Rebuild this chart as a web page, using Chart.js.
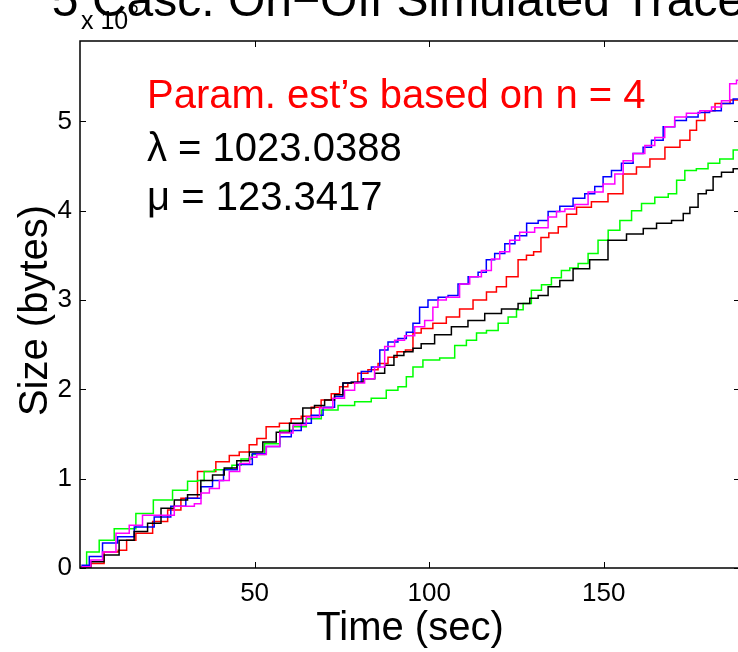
<!DOCTYPE html>
<html>
<head>
<meta charset="utf-8">
<script src="https://cdn.jsdelivr.net/npm/chart.js@4.4.0/dist/chart.umd.min.js"></script>
<style>
  html, body { margin: 0; padding: 0; overflow: hidden; background: #fff; }
  #wrap { position: absolute; left: 0; top: 0; width: 742px; height: 652px; }
</style>
</head>
<body>
<div id="wrap"><canvas id="c" width="742" height="652"></canvas></div>
<script>
// Cumulative size of each simulated trace, [time (sec), size (x 10^6 bytes)]
const redTrace = [
  [0, 0], [1.2, 0], [5.0, 0.05], [8.8, 0.18], [13.1, 0.20], [13.6, 0.31], [18.4, 0.39],
  [23.2, 0.52], [27.0, 0.65], [30.8, 0.78], [36.5, 1.08], [41.3, 1.19], [44.2, 1.26],
  [47.0, 1.30], [49.9, 1.38], [51.4, 1.45], [55.2, 1.58], [59.0, 1.62], [61.9, 1.67],
  [64.8, 1.70], [67.6, 1.80], [70.5, 1.88], [73.4, 1.95], [75.3, 2.03], [78.1, 2.07],
  [81.0, 2.18], [83.9, 2.22], [86.8, 2.29], [89.6, 2.36], [92.0, 2.42], [94.4, 2.44],
  [96.3, 2.63], [99.1, 2.68], [103.0, 2.74], [106.8, 2.81], [110.6, 2.90], [114.5, 3.00],
  [118.3, 3.09], [120.2, 3.15], [124.0, 3.26], [126.9, 3.45], [128.8, 3.50], [131.0, 3.54],
  [133.0, 3.70], [135.5, 3.75], [138.4, 3.82], [140.3, 3.96], [144.1, 4.04], [148.8, 4.10],
  [153.6, 4.19], [157.4, 4.41], [161.3, 4.49], [165.1, 4.58], [169.9, 4.71], [173.7, 4.79],
  [175.6, 4.90], [177.5, 5.01], [180.4, 5.12], [183.3, 5.20], [189.0, 5.24]
];
const greenTrace = [
  [0, 0], [0.7, 0.015], [3.1, 0.18], [7.9, 0.31], [11.7, 0.44], [14.1, 0.44], [17.9, 0.61],
  [24.1, 0.76], [28.9, 0.87], [32.7, 0.97], [34.6, 0.98], [36.5, 1.08], [40.4, 1.10],
  [42.8, 1.11], [44.2, 1.15], [48.0, 1.22], [50.4, 1.27], [55.3, 1.39], [59.1, 1.54],
  [62.9, 1.58], [66.7, 1.67], [71.5, 1.77], [76.3, 1.82], [81.0, 1.86], [85.8, 1.90],
  [89.6, 1.99], [92.5, 2.03], [94.4, 2.14], [96.3, 2.25], [100.1, 2.33], [105.9, 2.35],
  [108.7, 2.49], [112.6, 2.55], [114.5, 2.63], [118.3, 2.66], [121.2, 2.74], [124.0, 2.81],
  [126.0, 2.89], [127.8, 2.96], [130.7, 3.11], [133.6, 3.17], [136.4, 3.25], [139.3, 3.33],
  [141.2, 3.36], [144.1, 3.41], [146.9, 3.52], [149.8, 3.67], [152.7, 3.78], [156.5, 3.89],
  [159.4, 4.00], [162.2, 4.08], [167.0, 4.15], [169.9, 4.19], [171.8, 4.34], [174.6, 4.45],
  [178.4, 4.47], [181.3, 4.53], [185.1, 4.58], [189.0, 4.68]
];
const blueTrace = [
  [0, 0], [1.2, 0.03], [4.1, 0.13], [8.8, 0.28], [12.7, 0.35], [18.4, 0.46], [24.1, 0.57],
  [27.9, 0.69], [32.7, 0.78], [36.5, 0.91], [39.4, 0.98], [42.8, 1.10], [47.3, 1.16],
  [51.4, 1.28], [55.3, 1.36], [59.1, 1.47], [61.9, 1.54], [64.8, 1.62], [67.7, 1.71],
  [71.5, 1.80], [74.3, 1.92], [76.3, 2.07], [79.1, 2.08], [82.0, 2.20], [84.9, 2.25],
  [86.8, 2.44], [89.6, 2.53], [92.5, 2.57], [94.4, 2.64], [96.3, 2.74], [98.2, 2.92],
  [101.1, 3.00], [104.0, 3.03], [106.8, 3.05], [109.7, 3.18], [112.6, 3.26], [115.4, 3.31],
  [117.3, 3.45], [120.2, 3.52], [123.1, 3.63], [126.0, 3.72], [129.8, 3.86], [132.6, 3.89],
  [135.5, 3.99], [139.3, 4.05], [143.1, 4.14], [146.0, 4.19], [148.8, 4.27], [150.8, 4.38],
  [153.6, 4.45], [156.5, 4.53], [160.3, 4.64], [162.2, 4.71], [165.1, 4.79], [168.9, 4.94],
  [171.7, 5.01], [175.6, 5.05], [178.4, 5.10], [182.2, 5.12], [185.1, 5.20], [189.0, 5.25]
];
const blackTrace = [
  [0, 0], [1.2, 0.015], [5.0, 0.07], [8.8, 0.145], [13.6, 0.31], [17.4, 0.41], [21.3, 0.50],
  [25.1, 0.67], [28.9, 0.76], [32.7, 0.82], [36.5, 0.98], [39.4, 1.04], [43.2, 1.12],
  [46.6, 1.20], [50.4, 1.30], [54.3, 1.41], [58.1, 1.52], [61.9, 1.62], [65.7, 1.79],
  [68.6, 1.82], [71.5, 1.88], [74.3, 1.94], [76.3, 2.07], [79.1, 2.08], [83.0, 2.12],
  [85.8, 2.18], [88.7, 2.27], [91.1, 2.38], [94.4, 2.42], [96.3, 2.46], [99.1, 2.51],
  [104.0, 2.61], [108.7, 2.70], [113.5, 2.77], [118.3, 2.85], [123.1, 2.90], [127.8, 2.96],
  [129.8, 3.02], [132.6, 3.05], [135.5, 3.15], [139.3, 3.22], [143.1, 3.35], [148.8, 3.45],
  [153.6, 3.67], [159.4, 3.74], [163.2, 3.80], [167.0, 3.86], [171.8, 3.89], [173.7, 3.97],
  [175.6, 4.04], [178.4, 4.19], [180.3, 4.23], [182.3, 4.38], [185.1, 4.43], [189.0, 4.47]
];
const magentaTrace = [
  [0, 0], [1.2, 0.015], [5.0, 0.09], [7.9, 0.18], [12.7, 0.39], [15.5, 0.48], [20.3, 0.59],
  [25.1, 0.59], [28.9, 0.69], [31.8, 0.69], [33.7, 0.72], [35.6, 0.84], [38.5, 0.89],
  [41.3, 0.98], [44.2, 1.08], [47.3, 1.17], [49.9, 1.24], [51.4, 1.27], [55.3, 1.36],
  [59.1, 1.51], [62.9, 1.60], [66.7, 1.69], [70.5, 1.79], [74.3, 1.90], [77.2, 1.99],
  [80.1, 2.07], [82.9, 2.12], [85.8, 2.25], [88.7, 2.48], [91.5, 2.55], [94.4, 2.60],
  [97.3, 2.70], [100.1, 2.77], [102.0, 2.92], [103.0, 3.00], [106.8, 3.03], [110.6, 3.18],
  [112.6, 3.26], [117.3, 3.33], [118.3, 3.46], [122.1, 3.54], [124.0, 3.67], [127.8, 3.76],
  [132.6, 3.81], [135.5, 3.93], [137.4, 3.99], [140.3, 4.02], [143.1, 4.07], [147.9, 4.21],
  [151.7, 4.30], [154.6, 4.41], [156.5, 4.56], [160.3, 4.64], [163.2, 4.73], [166.0, 4.82],
  [168.9, 4.94], [171.7, 5.05], [175.6, 5.09], [179.4, 5.12], [182.3, 5.16], [185.1, 5.23],
  [187.0, 5.42], [189.0, 5.46]
];

const xTicks = [50, 100, 150];
const yTicks = [0, 1, 2, 3, 4, 5];

const titleText = '5 Casc. On\u2212Off Simulated Traces';
const xLabel = 'Time (sec)';
const yLabel = 'Size (bytes)';
const notes = ['Param. est\u2019s based on n = 4', '\u03bb = 1023.0388', '\u03bc = 123.3417'];

const FONT = '"Liberation Sans", Arial, Helvetica, sans-serif';

const traces = [
  { data: redTrace, color: '#ff0000' },
  { data: greenTrace, color: '#00ff00' },
  { data: blueTrace, color: '#0000ff' },
  { data: blackTrace, color: '#000000' },
  { data: magentaTrace, color: '#ff00ff' }
];

// traces are step functions (bytes arrive in bursts)
const datasets = traces.map((t, i) => ({
  data: t.data.map(p => ({ x: p[0], y: p[1] })),
  borderColor: t.color,
  borderWidth: 1.5,
  pointRadius: 0,
  stepped: 'middle',
  fill: false,
  order: traces.length - i
}));

// Box, inward ticks and all the MATLAB-style text
const matlabFrame = {
  id: 'matlabFrame',
  afterDraw(chart) {
    const { ctx, chartArea: a, scales: { x, y } } = chart;
    const len = 6;
    ctx.save();
    ctx.strokeStyle = '#000';
    ctx.lineWidth = 1;
    ctx.beginPath();
    xTicks.forEach(v => {
      const px = Math.round(x.getPixelForValue(v)) + 0.5;
      ctx.moveTo(px, a.bottom); ctx.lineTo(px, a.bottom - len);
      ctx.moveTo(px, a.top); ctx.lineTo(px, a.top + len);
    });
    yTicks.forEach(v => {
      const py = Math.round(y.getPixelForValue(v)) + 0.5;
      ctx.moveTo(a.left, py); ctx.lineTo(a.left + len, py);
      ctx.moveTo(a.right, py); ctx.lineTo(a.right - len, py);
    });
    ctx.stroke();
    ctx.lineWidth = 1.5;
    ctx.strokeRect(a.left, a.top, a.right - a.left, a.bottom - a.top);

    ctx.fillStyle = '#000';
    // exponent of the y axis
    ctx.textAlign = 'left';
    ctx.textBaseline = 'alphabetic';
    ctx.font = '25px ' + FONT;
    ctx.fillText('x 10', 81, 29);
    ctx.font = '17px ' + FONT;
    ctx.fillText('6', 129, 13);

    // title (top is cut off in the original)
    ctx.textAlign = 'center';
    ctx.font = '48px ' + FONT;
    ctx.fillText(titleText, (a.left + a.right) / 2, 16);

    // axis labels
    ctx.font = '40px ' + FONT;
    ctx.fillText(xLabel, (a.left + a.right) / 2, 640);
    ctx.save();
    ctx.translate(36, (a.top + a.bottom) / 2 + 6);
    ctx.rotate(-Math.PI / 2);
    ctx.textBaseline = 'middle';
    ctx.fillText(yLabel, 0, 0);
    ctx.restore();

    // parameter notes
    ctx.textAlign = 'left';
    ctx.textBaseline = 'middle';
    ctx.font = '40px ' + FONT;
    const noteY = [97, 150, 199];
    notes.forEach((txt, i) => {
      ctx.fillStyle = i === 0 ? '#ff0000' : '#000000';
      ctx.fillText(txt, 147, noteY[i]);
    });
    ctx.restore();
  }
};

new Chart(document.getElementById('c'), {
  type: 'line',
  data: { datasets },
  options: {
    responsive: false,
    animation: false,
    layout: { padding: { top: 41, right: 2, left: 0, bottom: 0 } },
    plugins: { legend: { display: false }, tooltip: { enabled: false }, title: { display: false } },
    scales: {
      x: {
        type: 'linear',
        min: 0,
        max: 189,
        grid: { display: false, drawTicks: false },
        border: { display: false },
        afterBuildTicks: s => { s.ticks = xTicks.map(v => ({ value: v })); },
        afterFit: s => { s.height = 84; },
        ticks: {
          color: '#000',
          font: { family: FONT, size: 26 },
          padding: 10,
          maxRotation: 0,
          autoSkip: false
        }
      },
      y: {
        type: 'linear',
        min: 0,
        max: 5.9,
        grid: { display: false, drawTicks: false },
        border: { display: false },
        afterBuildTicks: s => { s.ticks = yTicks.map(v => ({ value: v })); },
        afterFit: s => { s.width = 80; },
        ticks: {
          color: '#000',
          font: { family: FONT, size: 26 },
          padding: 8,
          autoSkip: false
        }
      }
    }
  },
  plugins: [matlabFrame]
});
</script>
</body>
</html>
